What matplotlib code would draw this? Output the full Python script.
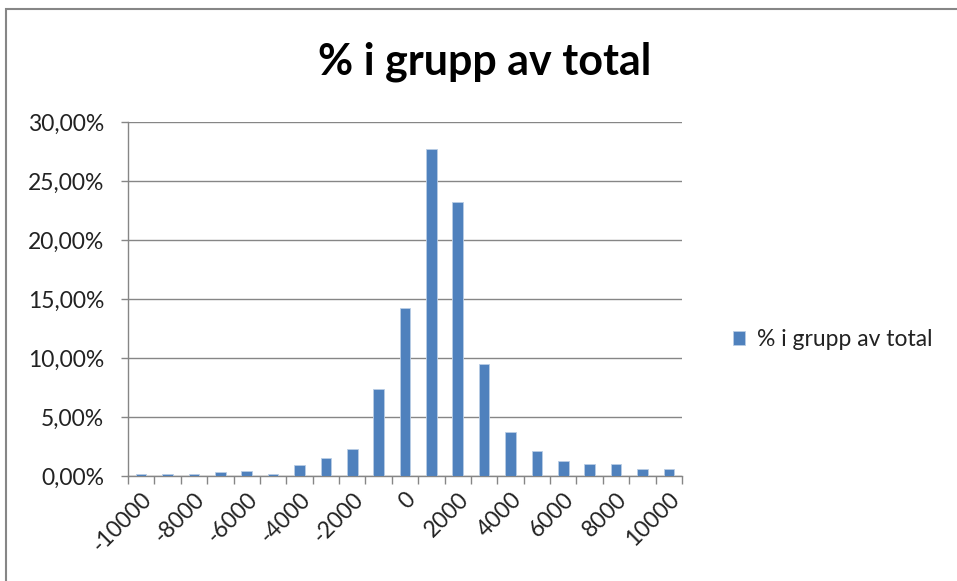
import numpy as np
import matplotlib.pyplot as plt
from matplotlib.patches import Rectangle

plt.rcParams['font.family'] = ['Lato', 'DejaVu Sans']
plt.rcParams['text.color'] = '#222222'
plt.rcParams['xtick.labelcolor'] = '#222222'
plt.rcParams['ytick.labelcolor'] = '#222222'

# data
groups = list(range(-10000, 10001, 1000))
share = [0.2, 0.2, 0.2, 0.3, 0.4, 0.2, 0.9, 1.5, 2.3, 7.4, 14.2,
         27.7, 23.2, 9.5, 3.7, 2.1, 1.25, 1.05, 1.05, 0.6, 0.6]
series_name = "% i grupp av total"
y_ticks = [0, 5, 10, 15, 20, 25, 30]

bar_color = "#4F81BD"
grid_color = "#868686"
label_size = 16.5

fig = plt.figure(figsize=(9.57, 5.81), dpi=100)
ax = fig.add_axes([128/957, 1 - 476/581, 554/957, 354/581])

x = np.arange(len(groups))
bars = ax.bar(x, share, width=0.4, color=bar_color, edgecolor="#B9CDE5",
              linewidth=0.6, label=series_name, zorder=3)

ax.set_xlim(-0.5, len(groups) - 0.5)
ax.set_ylim(0, 30)
ax.set_yticks(y_ticks)
ax.set_yticklabels([f"{v:.2f}".replace(".", ",") + "%" for v in y_ticks],
                   fontsize=label_size)
ax.yaxis.grid(True, color=grid_color, linewidth=1.0, zorder=0)

# category boundary ticks, labels on every other category
ax.set_xticks(np.arange(len(groups) + 1) - 0.5)
ax.set_xticklabels([])
ax.set_xticks(x[::2], minor=True)
ax.set_xticklabels([str(g) for g in groups[::2]], minor=True, rotation=45,
                   ha="right", rotation_mode="anchor", fontsize=label_size)
ax.tick_params(axis="x", which="major", length=6, color=grid_color, width=1)
ax.tick_params(axis="x", which="minor", length=0, pad=9)
ax.tick_params(axis="y", length=5, color=grid_color, width=1, pad=12)

for side in ("top", "right"):
    ax.spines[side].set_visible(False)
for side in ("left", "bottom"):
    ax.spines[side].set_color(grid_color)
    ax.spines[side].set_linewidth(1.0)

fig.text(485/957, 1 - 62/581, series_name, ha="center", va="center",
         fontsize=31, fontweight="bold", color="black")

fig.legend(handles=[bars], labels=[series_name], loc="center left",
           bbox_to_anchor=(712/957, 1 - 340/581), frameon=False,
           fontsize=label_size, handlelength=0.55, handleheight=0.55,
           handletextpad=0.5)

# chart area border
fig.patches.append(Rectangle((6/957, -0.05), 1.0, 1 - 9/581 + 0.05,
                             transform=fig.transFigure, fill=False,
                             edgecolor=grid_color, linewidth=1.5))

fig.savefig("out.png", dpi=100)
